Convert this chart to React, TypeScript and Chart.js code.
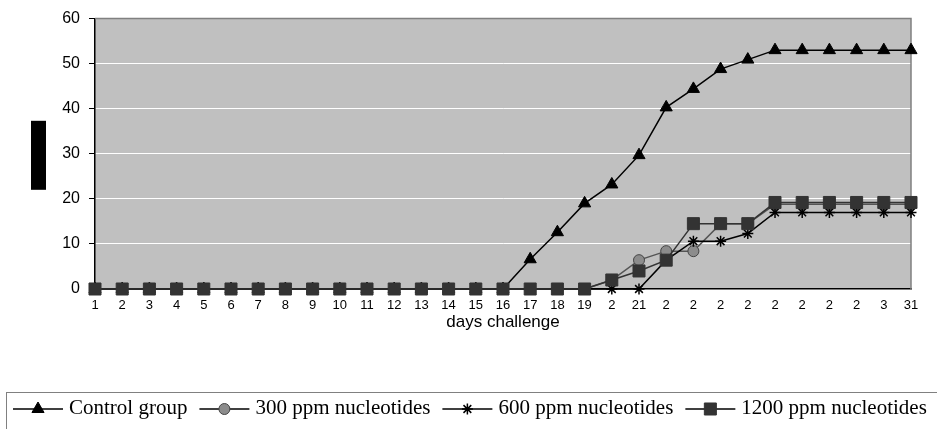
import React, { useEffect, useRef } from 'react';
import { Chart, registerables } from 'chart.js';
import { drawPoint } from 'chart.js/helpers';

Chart.register(...registerables);

const dayLabels = ['1', '2', '3', '4', '5', '6', '7', '8', '9', '10', '11', '12', '13', '14', '15', '16', '17', '18', '19', '2', '21', '2', '2', '2', '2', '2', '2', '2', '2', '3', '31'];

const controlGroup = [0, 0, 0, 0, 0, 0, 0, 0, 0, 0, 0, 0, 0, 0, 0, 0, 6.6, 12.6, 19, 23.2, 29.7, 40.3, 44.4, 48.8, 50.9, 53, 53, 53, 53, 53, 53];
const ppm300 = [0, 0, 0, 0, 0, 0, 0, 0, 0, 0, 0, 0, 0, 0, 0, 0, 0, 0, 0, 2, 6.4, 8.4, 8.4, 14.5, 14.5, 18.8, 18.8, 18.8, 18.8, 18.8, 18.8];
const ppm600 = [0, 0, 0, 0, 0, 0, 0, 0, 0, 0, 0, 0, 0, 0, 0, 0, 0, 0, 0, 0, 0, 6.4, 10.6, 10.6, 12.3, 17, 17, 17, 17, 17, 17];
const ppm1200 = [0, 0, 0, 0, 0, 0, 0, 0, 0, 0, 0, 0, 0, 0, 0, 0, 0, 0, 0, 2, 4, 6.4, 14.5, 14.5, 14.5, 19.2, 19.2, 19.2, 19.2, 19.2, 19.2];

const seriesNames = ['Control group', '300 ppm nucleotides', '600 ppm nucleotides', '1200 ppm nucleotides'];
const yTicks = [0, 10, 20, 30, 40, 50, 60];

const plotFrame = {
  id: 'plotFrame',
  beforeDraw(chart: any) {
    const { ctx, chartArea } = chart;
    const { left, top, right, bottom } = chartArea;
    ctx.save();
    ctx.fillStyle = '#c0c0c0';
    ctx.fillRect(left, top, right - left, bottom - top);
    ctx.restore();
  },
  beforeDatasetsDraw(chart: any) {
    const { ctx, chartArea } = chart;
    const { left, top, right, bottom } = chartArea;
    ctx.save();
    ctx.strokeStyle = '#808080';
    ctx.lineWidth = 1.5;
    ctx.beginPath();
    ctx.moveTo(left, top);
    ctx.lineTo(right, top);
    ctx.lineTo(right, bottom);
    ctx.stroke();
    ctx.restore();
  },
  afterDraw(chart: any) {
    const { ctx, chartArea } = chart;
    ctx.save();
    // redacted axis title block
    const cy = (chartArea.top + chartArea.bottom) / 2 + 1.5;
    ctx.fillStyle = '#000';
    ctx.fillRect(chartArea.left - 64, cy - 34.5, 15, 69);
    ctx.restore();
  },
};

const legendBox = {
  id: 'legendBox',
  afterDraw(chart: any) {
    const ctx = chart.ctx;
    ctx.save();
    ctx.strokeStyle = '#808080';
    ctx.lineWidth = 1;
    ctx.strokeRect(6.5, 392.5, 960, 80);
    ctx.font = '21px "Liberation Serif", "Times New Roman", serif';
    ctx.textBaseline = 'middle';
    ctx.textAlign = 'left';
    let x = 13;
    const y = 408;
    chart.data.datasets.forEach((ds: any) => {
      ctx.strokeStyle = '#000000';
      ctx.lineWidth = 1.5;
      ctx.beginPath();
      ctx.moveTo(x, y + 1);
      ctx.lineTo(x + 50, y + 1);
      ctx.stroke();
      ctx.fillStyle = ds.pointBackgroundColor;
      ctx.strokeStyle = ds.pointBorderColor;
      ctx.lineWidth = ds.pointBorderWidth;
      drawPoint(ctx, { pointStyle: ds.pointStyle, rotation: 0, radius: ds.pointRadius, borderWidth: ds.pointBorderWidth }, x + 25, y + 1);
      ctx.fillStyle = '#000';
      ctx.fillText(ds.label, x + 56, y);
      x += 56 + ctx.measureText(ds.label).width + 12;
    });
    ctx.restore();
  },
};

export default function App() {
  const canvasRef = useRef<HTMLCanvasElement | null>(null);

  useEffect(() => {
    if (!canvasRef.current) return;
    const common = { clip: false as any, borderWidth: 1.5, tension: 0, pointBorderWidth: 1 };
    const chart = new Chart(canvasRef.current, {
      type: 'line',
      data: {
        labels: dayLabels,
        datasets: [
          {
            ...common,
            label: seriesNames[0],
            data: controlGroup,
            borderColor: '#000000',
            pointStyle: 'triangle',
            pointRadius: 7,
            pointBackgroundColor: '#000000',
            pointBorderColor: '#000000',
            order: 4,
          },
          {
            ...common,
            label: seriesNames[1],
            data: ppm300,
            borderColor: '#555555',
            pointStyle: 'circle',
            pointRadius: 5.5,
            pointBackgroundColor: '#8c8c8c',
            pointBorderColor: '#444444',
            order: 3,
          },
          {
            ...common,
            label: seriesNames[2],
            data: ppm600,
            borderColor: '#000000',
            pointStyle: 'star',
            pointRadius: 5.5,
            pointBackgroundColor: '#000000',
            pointBorderColor: '#000000',
            pointBorderWidth: 1.5,
            order: 2,
          },
          {
            ...common,
            label: seriesNames[3],
            data: ppm1200,
            borderColor: '#333333',
            pointStyle: 'rect',
            pointRadius: 8.5,
            pointBackgroundColor: '#333333',
            pointBorderColor: '#333333',
            order: 1,
          },
        ],
      },
      options: {
        animation: false,
        responsive: true,
        maintainAspectRatio: false,
        layout: { padding: { top: 17, right: 26, bottom: 96, left: 0 } },
        plugins: {
          legend: { display: false },
          tooltip: { enabled: false },
        },
        scales: {
          x: {
            type: 'category',
            offset: false,
            grid: { display: false },
            border: { display: true, color: '#000000', width: 1.5 },
            ticks: {
              autoSkip: false,
              maxRotation: 0,
              minRotation: 0,
              padding: 1,
              color: '#000000',
              font: { family: '"Liberation Sans", Arial, sans-serif', size: 13 },
            },
            title: {
              display: true,
              text: 'days challenge',
              color: '#000000',
              padding: 0,
              font: { family: '"Liberation Sans", Arial, sans-serif', size: 17 },
            },
            afterFit(scale: any) {
              scale.height = 44;
            },
          },
          y: {
            min: 0,
            max: 60,
            afterBuildTicks(scale: any) {
              scale.ticks = yTicks.map((v) => ({ value: v }));
            },
            grid: {
              color: (c: any) => (c.tick && (c.tick.value === 0 || c.tick.value === 60) ? 'rgba(0,0,0,0)' : '#ffffff'),
              tickColor: '#000000',
              tickLength: 6,
              lineWidth: 1,
            },
            border: { display: true, color: '#000000', width: 1.5 },
            ticks: {
              padding: 9,
              color: '#000000',
              font: { family: '"Liberation Sans", Arial, sans-serif', size: 16 },
            },
            afterFit(scale: any) {
              scale.width = 95;
            },
          },
        },
      },
      plugins: [plotFrame, legendBox],
    });
    return () => chart.destroy();
  }, []);

  return (
    <div style={{ position: 'absolute', left: 0, top: 0, width: 937, height: 429, background: '#ffffff' }}>
      <canvas ref={canvasRef} />
    </div>
  );
}
